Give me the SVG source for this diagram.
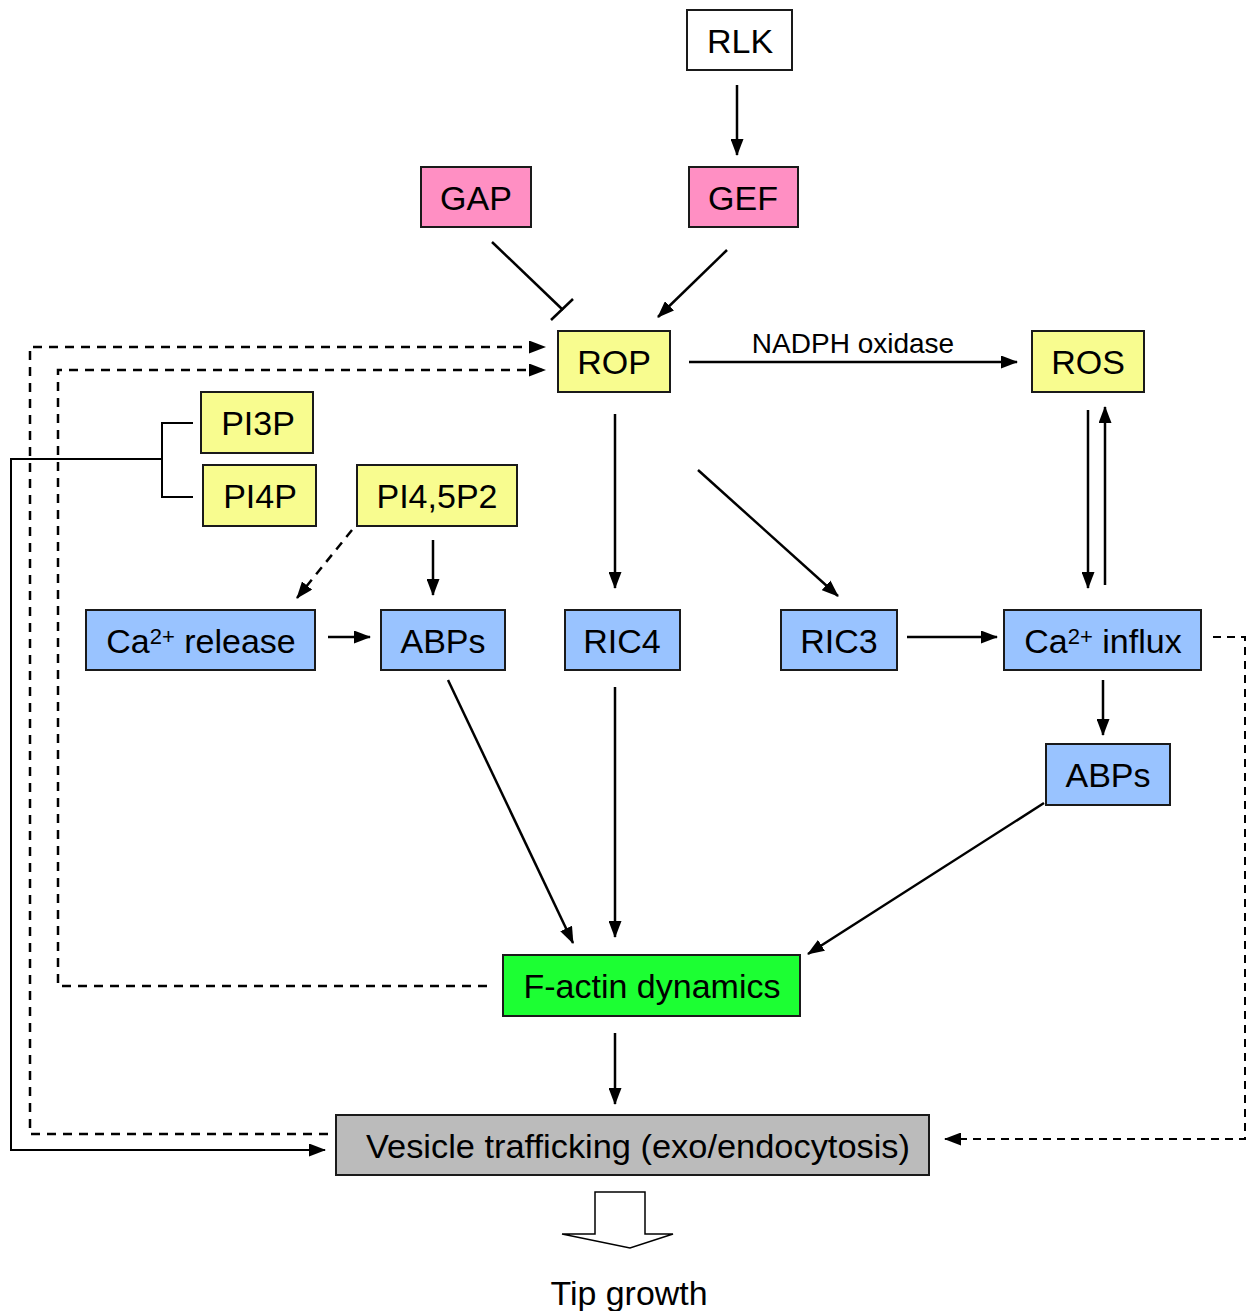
<svg xmlns="http://www.w3.org/2000/svg" width="1254" height="1311" viewBox="0 0 1254 1311">
<style>
.n{stroke:#1a1a1a;stroke-width:2}
.w{fill:#ffffff}.p{fill:#ff8fc3}.y{fill:#f8fc8f}.b{fill:#99c3ff}.g{fill:#1cff33}.gr{fill:#bbbbbb}
text{font-family:"Liberation Sans",Arial,sans-serif;fill:#000;text-anchor:middle}
.t{font-size:34px}
.c{fill:none;stroke:#000;stroke-width:2.5}
.d{stroke-dasharray:9 7}
.d2{stroke-dasharray:8 6;stroke-width:2}
</style>
<defs>
<marker id="a" viewBox="0 0 17 13" refX="16" refY="6.5" markerWidth="17" markerHeight="13" markerUnits="userSpaceOnUse" orient="auto">
<path d="M0,0 L17,6.5 L0,13 Z" fill="#000"/>
</marker>
</defs>
<g id="connectors">
<path class="c" d="M737,85 V155" marker-end="url(#a)"/>
<path class="c" d="M492,242 L563,310"/>
<path class="c" d="M551,320 L573,299"/>
<path class="c" d="M727,250 L658,317" marker-end="url(#a)"/>
<path class="c" d="M689,362 H1017" marker-end="url(#a)"/>
<text x="853" y="353" style="font-size:28px">NADPH oxidase</text>
<path class="c d" d="M328,1134 H30 V347 H545" marker-end="url(#a)"/>
<path class="c d" d="M487,986 H58 V370 H545" marker-end="url(#a)"/>
<path class="c" style="stroke-width:2" d="M193,423 H162 V497 H193 M162,459 H11 V1150 H325" marker-end="url(#a)"/>
<path class="c d" d="M352,530 L297,598" marker-end="url(#a)"/>
<path class="c" d="M433,540 V595" marker-end="url(#a)"/>
<path class="c" d="M328,637 H370" marker-end="url(#a)"/>
<path class="c" d="M615,414 V588" marker-end="url(#a)"/>
<path class="c" d="M698,470 L838,596" marker-end="url(#a)"/>
<path class="c" d="M907,637 H997" marker-end="url(#a)"/>
<path class="c" d="M1088,410 V588" marker-end="url(#a)"/>
<path class="c" d="M1105,585 V407" marker-end="url(#a)"/>
<path class="c" d="M1103,680 V735" marker-end="url(#a)"/>
<path class="c d2" d="M1213,637 H1245 V1139 H945" marker-end="url(#a)"/>
<path class="c" d="M448,680 L573,943" marker-end="url(#a)"/>
<path class="c" d="M615,687 V937" marker-end="url(#a)"/>
<path class="c" d="M1044,803 L808,954" marker-end="url(#a)"/>
<path class="c" d="M615,1033 V1104" marker-end="url(#a)"/>
<path d="M595,1192 H645 V1234 H673 L630,1248 L562,1234 H595 Z" fill="#fff" stroke="#000" stroke-width="1.5"/>
</g>
<g id="RLK"><rect class="n w" x="687" y="10" width="105" height="60"/><text class="t" x="740" y="53">RLK</text></g>
<g id="GAP"><rect class="n p" x="421" y="167" width="110" height="60"/><text class="t" x="476" y="210">GAP</text></g>
<g id="GEF"><rect class="n p" x="689" y="167" width="109" height="60"/><text class="t" x="743" y="210">GEF</text></g>
<g id="ROP"><rect class="n y" x="558" y="331" width="112" height="61"/><text class="t" x="614" y="374">ROP</text></g>
<g id="ROS"><rect class="n y" x="1032" y="331" width="112" height="61"/><text class="t" x="1088" y="374">ROS</text></g>
<g id="PI3P"><rect class="n y" x="201" y="392" width="112" height="61"/><text class="t" x="258" y="435">PI3P</text></g>
<g id="PI4P"><rect class="n y" x="203" y="465" width="113" height="61"/><text class="t" x="260" y="508">PI4P</text></g>
<g id="PI45P2"><rect class="n y" x="357" y="465" width="160" height="61"/><text class="t" x="437" y="508">PI4,5P2</text></g>
<g id="Ca_release"><rect class="n b" x="86" y="610" width="229" height="60"/><text class="t" x="201" y="653">Ca<tspan dy="-9" style="font-size:22px">2+</tspan><tspan dy="9"> release</tspan></text></g>
<g id="ABPs1"><rect class="n b" x="381" y="610" width="124" height="60"/><text class="t" x="443" y="653">ABPs</text></g>
<g id="RIC4"><rect class="n b" x="565" y="610" width="115" height="60"/><text class="t" x="622" y="653">RIC4</text></g>
<g id="RIC3"><rect class="n b" x="781" y="610" width="116" height="60"/><text class="t" x="839" y="653">RIC3</text></g>
<g id="Ca_influx"><rect class="n b" x="1004" y="610" width="197" height="60"/><text class="t" x="1103" y="653">Ca<tspan dy="-9" style="font-size:22px">2+</tspan><tspan dy="9"> influx</tspan></text></g>
<g id="ABPs2"><rect class="n b" x="1046" y="744" width="124" height="61"/><text class="t" x="1108" y="787">ABPs</text></g>
<g id="F_actin"><rect class="n g" x="503" y="955" width="297" height="61"/><text class="t" x="652" y="998">F-actin dynamics</text></g>
<g id="Vesicle"><rect class="n gr" x="336" y="1115" width="593" height="60"/><text x="638" y="1158" style="font-size:34px" textLength="544" lengthAdjust="spacingAndGlyphs">Vesicle trafficking (exo/endocytosis)</text></g>
<g id="Tip_growth"><text x="629" y="1305" style="font-size:34px" textLength="157" lengthAdjust="spacingAndGlyphs">Tip growth</text></g>
</svg>
